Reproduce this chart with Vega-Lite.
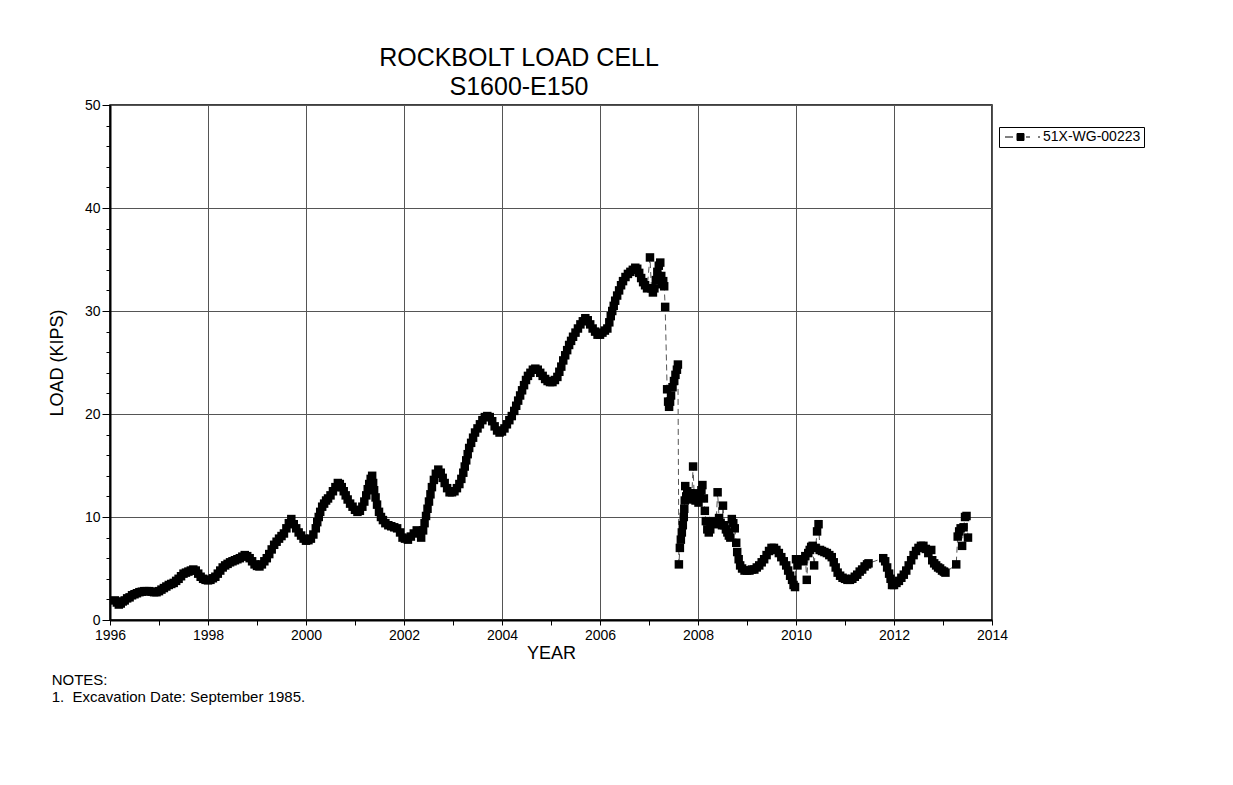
{
"$schema": "https://vega.github.io/schema/vega-lite/v6.json",
"background": "white",
"autosize": {"type": "pad"},
"padding": {"left": 47, "top": 45, "right": 5, "bottom": 5},
"title": {"text": ["NOTES:", "1.\u00a0\u00a0Excavation Date: September 1985."], "orient": "bottom", "anchor": "start", "frame": "bounds", "fontSize": 15, "fontWeight": "normal", "font": "Liberation Sans", "color": "black", "lineHeight": 17, "offset": 10, "dx": 4},
"vconcat": [{
"width": 882,
"height": 515,
"title": {"text": ["ROCKBOLT LOAD CELL", "S1600-E150"], "fontSize": 25, "fontWeight": "normal", "font": "Liberation Sans", "color": "black", "lineHeight": 29, "anchor": "middle", "dx": -32, "offset": -2},
"data": {"values": [
{"year":1996.10,"load":1.9},{"year":1996.14,"load":1.7},{"year":1996.18,"load":1.5},{"year":1996.22,"load":1.6},{"year":1996.26,"load":1.8},{"year":1996.30,"load":1.9},{"year":1996.35,"load":2.1},{"year":1996.40,"load":2.2},{"year":1996.45,"load":2.4},{"year":1996.50,"load":2.5},{"year":1996.55,"load":2.6},{"year":1996.60,"load":2.7},{"year":1996.65,"load":2.75},{"year":1996.70,"load":2.8},{"year":1996.75,"load":2.8},{"year":1996.80,"load":2.8},{"year":1996.85,"load":2.75},{"year":1996.90,"load":2.7},{"year":1996.95,"load":2.7},
{"year":1997.00,"load":2.8},{"year":1997.05,"load":2.95},{"year":1997.10,"load":3.1},{"year":1997.15,"load":3.25},{"year":1997.20,"load":3.4},{"year":1997.25,"load":3.5},{"year":1997.30,"load":3.6},{"year":1997.35,"load":3.8},{"year":1997.40,"load":4.0},{"year":1997.45,"load":4.25},{"year":1997.50,"load":4.5},{"year":1997.55,"load":4.6},{"year":1997.60,"load":4.7},{"year":1997.65,"load":4.8},{"year":1997.70,"load":4.9},{"year":1997.75,"load":4.8},{"year":1997.80,"load":4.5},{"year":1997.85,"load":4.2},{"year":1997.90,"load":4.0},{"year":1997.95,"load":3.9},
{"year":1998.00,"load":3.85},{"year":1998.05,"load":3.9},{"year":1998.10,"load":4.05},{"year":1998.15,"load":4.2},{"year":1998.20,"load":4.5},{"year":1998.25,"load":4.8},{"year":1998.30,"load":5.1},{"year":1998.35,"load":5.3},{"year":1998.40,"load":5.45},{"year":1998.45,"load":5.6},{"year":1998.50,"load":5.7},{"year":1998.55,"load":5.8},{"year":1998.60,"load":5.9},{"year":1998.65,"load":6.0},{"year":1998.70,"load":6.15},{"year":1998.75,"load":6.3},{"year":1998.80,"load":6.2},{"year":1998.85,"load":6.0},{"year":1998.90,"load":5.7},{"year":1998.95,"load":5.4},
{"year":1999.00,"load":5.25},{"year":1999.05,"load":5.2},{"year":1999.10,"load":5.4},{"year":1999.15,"load":5.7},{"year":1999.20,"load":6.0},{"year":1999.25,"load":6.4},{"year":1999.30,"load":6.85},{"year":1999.35,"load":7.3},{"year":1999.40,"load":7.6},{"year":1999.45,"load":7.9},{"year":1999.50,"load":8.15},{"year":1999.55,"load":8.4},{"year":1999.60,"load":8.9},{"year":1999.65,"load":9.4},{"year":1999.70,"load":9.8},{"year":1999.75,"load":9.3},{"year":1999.80,"load":8.9},{"year":1999.85,"load":8.5},{"year":1999.90,"load":8.2},{"year":1999.95,"load":7.9},
{"year":2000.00,"load":7.7},{"year":2000.05,"load":7.75},{"year":2000.10,"load":7.9},{"year":2000.15,"load":8.3},{"year":2000.20,"load":8.9},{"year":2000.23,"load":9.5},{"year":2000.26,"load":10.0},{"year":2000.29,"load":10.5},{"year":2000.33,"load":11.0},{"year":2000.37,"load":11.3},{"year":2000.41,"load":11.6},{"year":2000.45,"load":11.8},{"year":2000.50,"load":12.1},{"year":2000.55,"load":12.5},{"year":2000.60,"load":12.9},{"year":2000.65,"load":13.3},{"year":2000.69,"load":13.2},{"year":2000.73,"load":12.9},{"year":2000.77,"load":12.5},{"year":2000.81,"load":12.1},{"year":2000.85,"load":11.7},{"year":2000.90,"load":11.3},{"year":2000.95,"load":11.0},
{"year":2001.00,"load":10.7},{"year":2001.05,"load":10.5},{"year":2001.10,"load":10.6},{"year":2001.15,"load":11.0},{"year":2001.19,"load":11.5},{"year":2001.23,"load":12.1},{"year":2001.26,"load":12.7},{"year":2001.29,"load":13.2},{"year":2001.32,"load":13.7},{"year":2001.35,"load":14.0},{"year":2001.37,"load":13.3},{"year":2001.39,"load":12.6},{"year":2001.42,"load":11.9},{"year":2001.45,"load":11.2},{"year":2001.49,"load":10.5},{"year":2001.53,"load":10.0},{"year":2001.57,"load":9.7},{"year":2001.62,"load":9.4},{"year":2001.68,"load":9.2},{"year":2001.74,"load":9.1},{"year":2001.80,"load":9.0},{"year":2001.86,"load":8.9},{"year":2001.92,"load":8.5},{"year":2001.97,"load":8.0},
{"year":2002.02,"load":7.9},{"year":2002.08,"load":7.8},{"year":2002.14,"load":8.1},{"year":2002.20,"load":8.4},{"year":2002.26,"load":8.7},{"year":2002.31,"load":8.6},{"year":2002.35,"load":8.0},{"year":2002.39,"load":8.7},{"year":2002.42,"load":9.4},{"year":2002.45,"load":10.1},{"year":2002.48,"load":10.8},{"year":2002.51,"load":11.5},{"year":2002.54,"load":12.2},{"year":2002.57,"load":12.9},{"year":2002.61,"load":13.6},{"year":2002.65,"load":14.2},{"year":2002.70,"load":14.6},{"year":2002.75,"load":14.3},{"year":2002.79,"load":13.8},{"year":2002.83,"load":13.3},{"year":2002.88,"load":12.8},{"year":2002.93,"load":12.4},{"year":2002.98,"load":12.4},
{"year":2003.03,"load":12.5},{"year":2003.08,"load":12.8},{"year":2003.13,"load":13.2},{"year":2003.17,"load":13.7},{"year":2003.21,"load":14.3},{"year":2003.24,"load":14.9},{"year":2003.27,"load":15.5},{"year":2003.30,"load":16.1},{"year":2003.33,"load":16.7},{"year":2003.37,"load":17.2},{"year":2003.41,"load":17.7},{"year":2003.45,"load":18.2},{"year":2003.50,"load":18.6},{"year":2003.55,"load":19.0},{"year":2003.60,"load":19.4},{"year":2003.65,"load":19.7},{"year":2003.70,"load":19.8},{"year":2003.75,"load":19.7},{"year":2003.80,"load":19.3},{"year":2003.85,"load":18.8},{"year":2003.90,"load":18.4},{"year":2003.95,"load":18.2},
{"year":2004.00,"load":18.3},{"year":2004.05,"load":18.6},{"year":2004.10,"load":19.0},{"year":2004.15,"load":19.4},{"year":2004.20,"load":19.8},{"year":2004.25,"load":20.3},{"year":2004.29,"load":20.8},{"year":2004.33,"load":21.3},{"year":2004.37,"load":21.8},{"year":2004.41,"load":22.3},{"year":2004.45,"load":22.8},{"year":2004.49,"load":23.3},{"year":2004.53,"load":23.7},{"year":2004.58,"load":24.0},{"year":2004.63,"load":24.3},{"year":2004.68,"load":24.4},{"year":2004.73,"load":24.3},{"year":2004.78,"load":24.0},{"year":2004.83,"load":23.7},{"year":2004.88,"load":23.4},{"year":2004.93,"load":23.2},{"year":2004.98,"load":23.1},
{"year":2005.03,"load":23.1},{"year":2005.08,"load":23.3},{"year":2005.13,"load":23.6},{"year":2005.17,"load":24.1},{"year":2005.21,"load":24.6},{"year":2005.25,"load":25.2},{"year":2005.29,"load":25.7},{"year":2005.33,"load":26.2},{"year":2005.37,"load":26.7},{"year":2005.41,"load":27.1},{"year":2005.45,"load":27.5},{"year":2005.50,"load":27.9},{"year":2005.55,"load":28.3},{"year":2005.60,"load":28.7},{"year":2005.65,"load":29.0},{"year":2005.70,"load":29.3},{"year":2005.75,"load":29.1},{"year":2005.80,"load":28.7},{"year":2005.85,"load":28.3},{"year":2005.90,"load":28.0},{"year":2005.95,"load":27.7},
{"year":2006.00,"load":27.7},{"year":2006.05,"load":27.9},{"year":2006.10,"load":28.1},{"year":2006.15,"load":28.3},{"year":2006.19,"load":28.9},{"year":2006.22,"load":29.5},{"year":2006.25,"load":30.0},{"year":2006.28,"load":30.5},{"year":2006.31,"load":31.0},{"year":2006.35,"load":31.5},{"year":2006.39,"load":32.0},{"year":2006.43,"load":32.5},{"year":2006.47,"load":32.9},{"year":2006.52,"load":33.3},{"year":2006.57,"load":33.6},{"year":2006.62,"load":33.8},{"year":2006.67,"load":34.0},{"year":2006.72,"load":34.2},{"year":2006.76,"load":34.1},{"year":2006.80,"load":33.7},{"year":2006.84,"load":33.2},{"year":2006.88,"load":32.8},{"year":2006.92,"load":32.5},{"year":2006.96,"load":32.2},
{"year":2007.02,"load":35.2},{"year":2007.05,"load":32.2},{"year":2007.08,"load":31.8},{"year":2007.11,"load":32.2},{"year":2007.14,"load":33.0},{"year":2007.17,"load":33.8},{"year":2007.20,"load":34.4},{"year":2007.23,"load":34.7},{"year":2007.25,"load":33.4},{"year":2007.27,"load":32.6},{"year":2007.29,"load":32.9},{"year":2007.31,"load":32.4},{"year":2007.33,"load":30.4},
{"year":2007.37,"load":22.4},{"year":2007.39,"load":21.2},{"year":2007.41,"load":20.7},{"year":2007.43,"load":21.2},{"year":2007.45,"load":21.8},{"year":2007.48,"load":22.6},{"year":2007.51,"load":23.2},{"year":2007.54,"load":23.8},{"year":2007.57,"load":24.3},{"year":2007.59,"load":24.8},
{"year":2007.61,"load":5.4},{"year":2007.63,"load":7.0},{"year":2007.65,"load":7.8},{"year":2007.67,"load":8.5},{"year":2007.69,"load":9.2},{"year":2007.71,"load":10.0},{"year":2007.72,"load":10.8},{"year":2007.73,"load":11.6},{"year":2007.74,"load":13.0},{"year":2007.76,"load":12.0},{"year":2007.78,"load":12.5},{"year":2007.81,"load":11.8},{"year":2007.84,"load":12.3},{"year":2007.87,"load":11.7},{"year":2007.90,"load":14.9},{"year":2007.92,"load":12.3},{"year":2007.95,"load":11.6},{"year":2007.98,"load":12.2},
{"year":2008.01,"load":11.4},{"year":2008.04,"load":11.9},{"year":2008.07,"load":12.6},{"year":2008.09,"load":13.1},{"year":2008.12,"load":11.8},{"year":2008.14,"load":10.6},{"year":2008.16,"load":9.6},{"year":2008.19,"load":8.8},{"year":2008.22,"load":8.5},{"year":2008.25,"load":8.8},{"year":2008.28,"load":9.4},{"year":2008.31,"load":9.6},{"year":2008.34,"load":9.3},{"year":2008.37,"load":9.4},{"year":2008.40,"load":12.4},{"year":2008.43,"load":9.9},{"year":2008.46,"load":9.4},{"year":2008.49,"load":9.2},{"year":2008.51,"load":11.1},{"year":2008.54,"load":9.2},{"year":2008.57,"load":8.8},{"year":2008.60,"load":8.5},{"year":2008.63,"load":8.2},{"year":2008.66,"load":8.0},{"year":2008.69,"load":9.8},{"year":2008.72,"load":9.4},{"year":2008.75,"load":8.9},{"year":2008.78,"load":7.5},{"year":2008.80,"load":6.6},{"year":2008.83,"load":5.9},{"year":2008.86,"load":5.3},{"year":2008.90,"load":5.0},{"year":2008.95,"load":4.8},
{"year":2009.00,"load":4.8},{"year":2009.05,"load":4.8},{"year":2009.10,"load":4.9},{"year":2009.15,"load":4.9},{"year":2009.20,"load":5.1},{"year":2009.25,"load":5.3},{"year":2009.30,"load":5.6},{"year":2009.35,"load":5.9},{"year":2009.40,"load":6.3},{"year":2009.45,"load":6.7},{"year":2009.50,"load":7.0},{"year":2009.55,"load":7.0},{"year":2009.60,"load":6.8},{"year":2009.65,"load":6.5},{"year":2009.70,"load":6.1},{"year":2009.75,"load":5.7},{"year":2009.80,"load":5.3},{"year":2009.84,"load":4.8},{"year":2009.88,"load":4.3},{"year":2009.92,"load":3.9},{"year":2009.95,"load":3.4},{"year":2009.98,"load":3.2},
{"year":2010.00,"load":5.9},{"year":2010.03,"load":5.3},{"year":2010.07,"load":5.8},{"year":2010.11,"load":5.9},{"year":2010.15,"load":5.7},{"year":2010.19,"load":6.2},{"year":2010.22,"load":3.9},{"year":2010.25,"load":6.5},{"year":2010.28,"load":6.8},{"year":2010.31,"load":7.1},{"year":2010.34,"load":7.2},{"year":2010.37,"load":5.3},{"year":2010.40,"load":7.0},{"year":2010.43,"load":8.6},{"year":2010.46,"load":9.3},{"year":2010.49,"load":6.8},{"year":2010.53,"load":6.7},{"year":2010.58,"load":6.6},{"year":2010.63,"load":6.5},{"year":2010.68,"load":6.3},{"year":2010.73,"load":6.1},{"year":2010.77,"load":5.6},{"year":2010.81,"load":5.1},{"year":2010.85,"load":4.6},{"year":2010.90,"load":4.3},{"year":2010.95,"load":4.1},
{"year":2011.00,"load":4.0},{"year":2011.05,"load":3.9},{"year":2011.10,"load":3.9},{"year":2011.15,"load":4.0},{"year":2011.20,"load":4.2},{"year":2011.25,"load":4.4},{"year":2011.30,"load":4.7},{"year":2011.35,"load":4.9},{"year":2011.40,"load":5.2},{"year":2011.45,"load":5.4},{"year":2011.48,"load":5.5},{"year":2011.78,"load":6.0},{"year":2011.82,"load":5.7},{"year":2011.86,"load":5.1},{"year":2011.90,"load":4.5},{"year":2011.93,"load":4.0},{"year":2011.96,"load":3.4},
{"year":2012.00,"load":3.4},{"year":2012.05,"load":3.6},{"year":2012.10,"load":3.8},{"year":2012.15,"load":4.1},{"year":2012.20,"load":4.4},{"year":2012.25,"load":4.8},{"year":2012.30,"load":5.3},{"year":2012.35,"load":5.8},{"year":2012.40,"load":6.3},{"year":2012.45,"load":6.7},{"year":2012.50,"load":7.0},{"year":2012.55,"load":7.2},{"year":2012.60,"load":7.2},{"year":2012.65,"load":6.9},{"year":2012.70,"load":6.5},{"year":2012.76,"load":6.8},{"year":2012.78,"load":5.8},{"year":2012.82,"load":5.5},{"year":2012.86,"load":5.3},{"year":2012.90,"load":5.1},{"year":2012.94,"load":5.0},{"year":2012.98,"load":4.8},
{"year":2013.02,"load":4.7},{"year":2013.05,"load":4.6},{"year":2013.27,"load":5.4},{"year":2013.30,"load":8.1},{"year":2013.33,"load":8.6},{"year":2013.36,"load":8.9},{"year":2013.39,"load":7.2},{"year":2013.42,"load":9.0},{"year":2013.45,"load":10.0},{"year":2013.48,"load":10.1},{"year":2013.51,"load":8.0}
]},
"encoding": {
"x": {"field": "year", "type": "quantitative", "scale": {"domain": [1996, 2014], "nice": false, "zero": false},
 "axis": {"title": "YEAR", "values": [1996,1997,1998,1999,2000,2001,2002,2003,2004,2005,2006,2007,2008,2009,2010,2011,2012,2013,2014], "format": "d",
  "labelExpr": "datum.value % 2 === 0 ? datum.label : ''",
  "gridOpacity": {"condition": {"test": "datum.value % 2 === 0", "value": 1}, "value": 0},
  "tickSize": 5, "labelPadding": 3, "titlePadding": 2, "labelFlush": false, "labelOverlap": false}},
"y": {"field": "load", "type": "quantitative", "scale": {"domain": [0, 50], "nice": false},
 "axis": {"title": "LOAD (KIPS)", "values": [0,2,4,6,8,10,12,14,16,18,20,22,24,26,28,30,32,34,36,38,40,42,44,46,48,50],
  "labelExpr": "datum.value % 10 === 0 ? datum.label : ''",
  "gridOpacity": {"condition": {"test": "datum.value % 10 === 0", "value": 1}, "value": 0},
  "tickSize": {"condition": {"test": "datum.value % 10 === 0", "value": 8}, "value": 4},
  "labelPadding": 2, "titlePadding": 18, "labelFlush": false, "labelOverlap": false}}
},
"layer": [
 {"mark": {"type": "line", "color": "#555555", "strokeWidth": 1, "strokeDash": [6, 4]}},
 {"mark": {"type": "point", "shape": "square", "filled": true, "size": 72, "opacity": 1},
  "encoding": {"color": {"datum": "51X-WG-00223", "type": "nominal", "scale": {"range": ["black"]},
   "legend": {"title": null, "orient": "none", "legendX": 889, "legendY": 22, "strokeColor": "black", "fillColor": "white", "padding": 3,
    "labelFontSize": 14, "labelFont": "Liberation Sans", "labelColor": "black", "labelOffset": 27,
    "symbolType": "M-1,0H1M2,-0.875H3.75V0.875H2ZM4.25,0H5.25M7.25,0H7.75", "symbolSize": 64, "symbolStrokeWidth": 1, "symbolOpacity": 1,
    "symbolStrokeColor": "black", "symbolFillColor": "black",
    "encode": {"symbols": {"update": {"stroke": {"value": "black"}, "fill": {"value": "black"}, "strokeWidth": {"value": 1}, "size": {"value": 64}, "shape": {"value": "M-1,0H1M2,-0.875H3.75V0.875H2ZM4.25,0H5.25M7.25,0H7.75"}, "opacity": {"value": 1}}}}}}}}
]
}],
"config": {
 "font": "Liberation Sans",
 "view": {"stroke": "black", "strokeWidth": 1.5},
 "axis": {"domainColor": "black", "domainWidth": 2, "tickColor": "black", "tickWidth": 1, "gridColor": "#555555", "gridWidth": 1,
  "labelColor": "black", "labelFontSize": 14, "labelFont": "Liberation Sans", "titleFont": "Liberation Sans", "titleFontSize": 18, "titleFontWeight": "normal", "titleColor": "black"}
}
}
